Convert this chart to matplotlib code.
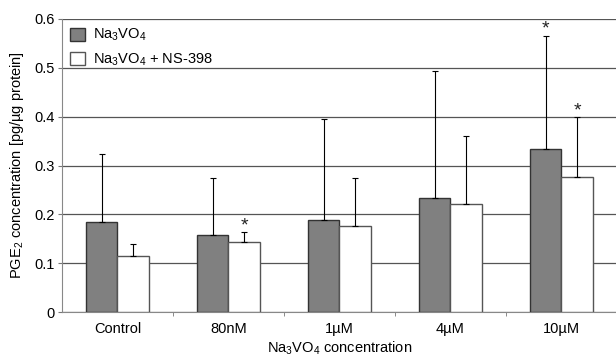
import matplotlib.pyplot as plt
import numpy as np

plt.rcParams['font.family'] = ['Liberation Sans', 'DejaVu Sans']
plt.rcParams['mathtext.fontset'] = 'custom'
plt.rcParams['mathtext.rm'] = 'Liberation Sans'
plt.rcParams['mathtext.it'] = 'Liberation Sans'

categories = ['Control', '80nM', '1µM', '4µM', '10µM']
vo4_mean = [0.184, 0.157, 0.189, 0.234, 0.334]
vo4_err = [0.139, 0.118, 0.206, 0.260, 0.232]
ns_mean = [0.114, 0.144, 0.177, 0.222, 0.276]
ns_err = [0.025, 0.019, 0.098, 0.139, 0.123]
vo4_star = [False, False, False, False, True]
ns_star = [False, True, False, False, True]

fig = plt.figure(figsize=(6.16, 3.56), dpi=100)
ax = fig.add_axes([62 / 616, 1 - 312 / 356, 556 / 616, 293 / 356])

x = np.arange(len(categories))
w = 0.285
ekw = dict(elinewidth=0.8, capsize=2, capthick=0.8, ecolor='black')
ax.bar(x - w / 2, vo4_mean, w, color='#808080', edgecolor='#333333', linewidth=1,
       yerr=[np.zeros(5), vo4_err], error_kw=ekw, label='Na$_3$VO$_4$', zorder=3)
ax.bar(x + w / 2, ns_mean, w, color='white', edgecolor='#555555', linewidth=1,
       yerr=[np.zeros(5), ns_err], error_kw=ekw, label='Na$_3$VO$_4$ + NS-398', zorder=3)

for i in range(len(categories)):
    if vo4_star[i]:
        ax.text(x[i] - w / 2, vo4_mean[i] + vo4_err[i] - 0.004, '*', ha='center', va='bottom',
                fontsize=14, color='#222222')
    if ns_star[i]:
        ax.text(x[i] + w / 2, ns_mean[i] + ns_err[i] - 0.004, '*', ha='center', va='bottom',
                fontsize=14, color='#222222')

ax.set_ylim(0, 0.6)
ax.set_xlim(-0.5, 4.51)
ax.set_yticks([0, 0.1, 0.2, 0.3, 0.4, 0.5, 0.6])
ax.set_yticklabels(['0', '0.1', '0.2', '0.3', '0.4', '0.5', '0.6'], fontsize=10.5)
ax.yaxis.grid(True, color='#555555', linewidth=0.9, zorder=0)
ax.set_axisbelow(True)

ax.set_xticks(x)
ax.set_xticklabels(categories, fontsize=10.5)
ax.tick_params(axis='x', length=0, pad=7)
ax.set_xticks(np.arange(0.5, 4.5, 1), minor=True)
ax.tick_params(axis='x', which='minor', length=3, color='#777777')
ax.tick_params(axis='y', length=3, color='#777777', pad=2)

for s in ['top', 'right']:
    ax.spines[s].set_visible(False)
ax.spines['left'].set_color('#888888')
ax.spines['bottom'].set_color('#888888')

ax.set_xlabel('Na$_3$VO$_4$ concentration', fontsize=10.5, labelpad=3)
ax.set_ylabel('PGE$_2$ concentration [pg/µg protein]', fontsize=10.5, labelpad=6)

ax.legend(loc='upper left', frameon=False, fontsize=10.5, handlelength=1.0, handleheight=1.0,
          borderaxespad=0.15, labelspacing=0.55, handletextpad=0.6)

fig.savefig('out.png', dpi=100)
